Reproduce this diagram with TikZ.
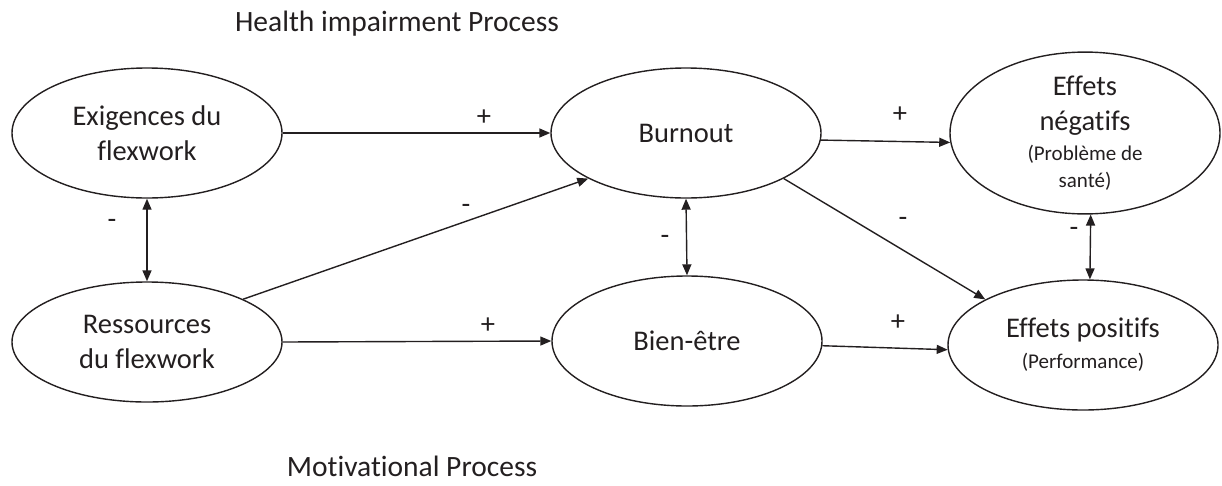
\documentclass[tikz,border=0pt]{standalone}
\usepackage{fontspec}
\setmainfont{Carlito}[Ligatures=NoCommon]
\usetikzlibrary{shapes.geometric,arrows.meta}
\definecolor{ink}{HTML}{231F20}
\newcommand\minorsize{\fontsize{21}{26}\selectfont}
\begin{document}
\begin{tikzpicture}[x=1pt,y=-1pt,
  bubble/.style={ellipse,draw=ink,line width=1.4pt,minimum width=270pt,minimum height=130pt,
    inner sep=0pt,align=center,text=ink,font=\fontsize{28.5}{35}\selectfont},
  link/.style={draw=ink,line width=1.4pt,-{Triangle[length=11pt,width=9pt]}},
  both/.style={draw=ink,line width=1.4pt,{Triangle[length=11pt,width=9pt]}-{Triangle[length=11pt,width=9pt]}},
  sign/.style={text=ink,font=\fontsize{28.5}{34}\selectfont,inner sep=0pt},
  caption/.style={text=ink,font=\fontsize{29.5}{34}\selectfont,inner sep=0pt}]
\useasboundingbox (0,0) rectangle (1222,485);

% process captions
\node[caption] (hip) at (397,24) {Health impairment Process};
\node[caption] (mp) at (412,466) {Motivational Process};

% constructs
\node[bubble] (ex) at (147,133) {Exigences du\\flexwork};
\node[bubble,minimum height=120pt] (re) at (147,342) {Ressources\\du flexwork};
\node[bubble] (bo) at (686,133) {Burnout};
\node[bubble] (be) at (687,341) {Bien-être};
\node[bubble] (en) at (1085,133) {Effets\\négatifs\\[-5pt]{\minorsize(Problème de}\\[-8pt]{\minorsize santé)}};
\node[bubble] (ep) at (1083,345) {Effets positifs\\[-4pt]{\minorsize(Performance)}};

% paths
\draw[link] (ex.east) -- (bo.west);
\draw[link] (re.east) -- (be.west);
\draw[link] (re.24) -- (bo.205);
\draw[link] (bo.-3.5) -- (en.-176.5);
\draw[link] (bo.-25) -- (ep.155);
\draw[link] (be.-2) -- (ep.-178.7);
\draw[both] (ex.south) -- (re.north);
\draw[both] (bo.south) -- (be.north);
\draw[both] (en.-86) -- (ep.84);

% signs
\node[sign] (s1) at (484,118) {+};
\node[sign] (s2) at (900,115) {+};
\node[sign] (s3) at (488,326) {+};
\node[sign] (s4) at (898,323) {+};
\node[sign] (s5) at (112,224) {-};
\node[sign] (s6) at (466,209) {-};
\node[sign] (s7) at (665,240) {-};
\node[sign] (s8) at (903,222) {-};
\node[sign] (s9) at (1074,232) {-};
\end{tikzpicture}
\end{document}
